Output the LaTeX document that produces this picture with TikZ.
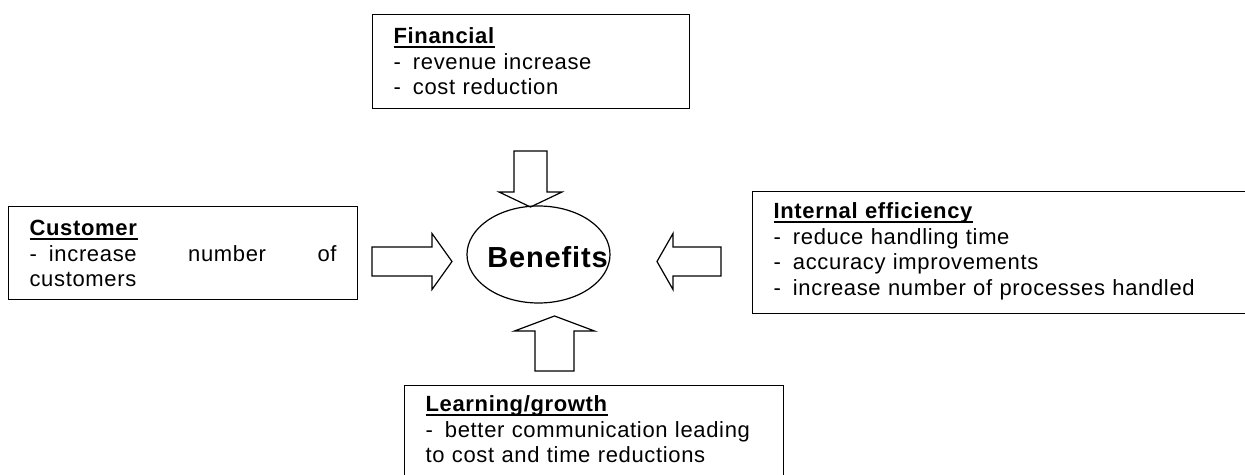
\documentclass[tikz,border=0pt]{standalone}
\usepackage{fontspec}
\setmainfont{Liberation Sans}[LetterSpace=3]
\usetikzlibrary{shapes.geometric}

\hyphenpenalty=10000
\exhyphenpenalty=10000
\tolerance=10000

\newcommand\headline[1]{\setbox0\hbox{\textbf{#1}}\rlap{\rule[-4.5pt]{\wd0}{2.4pt}}\box0}
\newcommand\itm{-\hspace{12pt}}

\tikzset{
  panel/.style={draw, line width=1.2pt, anchor=north west, inner xsep=21pt, inner ysep=0pt,
    font=\fontsize{22}{25.5}\selectfont},
  pics/blockarrow/.style n args={4}{code={
    \draw[line width=1.2pt] (0,-#3) -- (#1-#2,-#3) -- (#1-#2,-#4) -- (#1,0)
      -- (#1-#2,#4) -- (#1-#2,#3) -- (0,#3) -- cycle;}}
}

\begin{document}
\begin{tikzpicture}[x=1pt,y=1pt]
   \useasboundingbox (0,0) rectangle (1245,474);

   \node[panel, text width=275pt, text height=29pt, text depth=65pt, align=left] (fin) at (372,460)
     {\headline{Financial}\\\itm revenue increase\\\itm cost reduction};
   \node[panel, text width=307pt, text height=29pt, text depth=64pt, align=justify] (cust) at (8,268)
     {\headline{Customer}\\\itm increase number of\linebreak customers};
   \node[panel, text width=471pt, text height=27pt, text depth=95pt, align=left] (inteff) at (752,283)
     {\headline{Internal efficiency}\\\itm reduce handling time\\\itm accuracy improvements\\\itm increase number of processes handled};
   \node[panel, text width=337pt, text height=26pt, text depth=110pt, align=left] (learn) at (404,89)
     {\headline{Learning/growth}\\\itm better communication leading\\to cost and time reductions};

   \node[draw, ellipse, line width=1.2pt, minimum width=143pt, minimum height=97pt, inner sep=0pt] (benefits) at (538.5,219.5) {};
   \node[anchor=base, inner sep=0pt, font=\fontsize{29}{34}\selectfont\bfseries] (benlabel) at (547.5,206) {Benefits};

   % block arrows towards the ellipse
   \pic[rotate=-90] at (530.5,323) {blockarrow={56}{15}{16.5}{31.5}};
   \pic at (372,212.5) {blockarrow={80}{20}{14.5}{28}};
   \pic[rotate=180] at (721,212.5) {blockarrow={64}{16}{14.5}{28}};
   \pic[rotate=90] at (554.5,103) {blockarrow={55}{15}{19.5}{40}};
\end{tikzpicture}
\end{document}
